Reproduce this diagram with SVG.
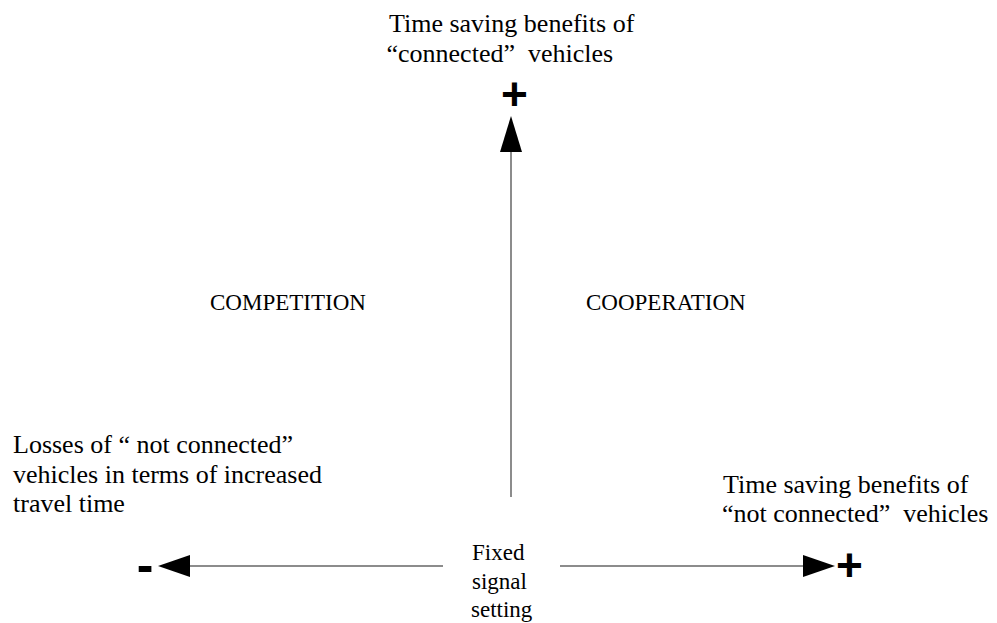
<svg xmlns="http://www.w3.org/2000/svg" width="997" height="623" viewBox="0 0 997 623">
<style>
.t{font-family:"Liberation Serif","Times New Roman",serif;font-size:26px;fill:#000;white-space:pre}
.q{font-size:23px}
.s{font-family:"Liberation Sans",Arial,sans-serif;font-weight:bold;fill:#000;text-anchor:middle}
.ln{stroke:#666;stroke-width:1.5;fill:none}
</style>
<rect width="997" height="623" fill="#fff"/>
<g id="connectors">
<line class="ln" x1="511" y1="497" x2="511" y2="150"/>
<polygon points="511,116 500,152 522,152" fill="#000"/>
<line class="ln" x1="443" y1="566" x2="188" y2="566"/>
<polygon points="158,566 190,555 190,577" fill="#000"/>
<line class="ln" x1="560" y1="566" x2="805" y2="566"/>
<polygon points="835,566 803,555 803,577" fill="#000"/>
</g>
<g id="top-label">
<text class="t" x="389" y="32">Time saving benefits of</text>
<text class="t" x="386.5" y="62" xml:space="preserve">“connected”  vehicles</text>
<text class="s" x="514.5" y="110" font-size="46">+</text>
</g>
<g id="competition"><text class="t q" x="210" y="310">COMPETITION</text></g>
<g id="cooperation"><text class="t q" x="586" y="310">COOPERATION</text></g>
<g id="left-label">
<text class="t" x="13" y="453">Losses of “ not connected”</text>
<text class="t" x="13" y="483">vehicles in terms of increased</text>
<text class="t" x="13" y="512">travel time</text>
<text class="s" x="145" y="582" font-size="50">-</text>
</g>
<g id="right-label">
<text class="t" x="723" y="493">Time saving benefits of</text>
<text class="t" x="722" y="522" xml:space="preserve">“not connected”  vehicles</text>
<text class="s" x="849.5" y="580.5" font-size="46">+</text>
</g>
<g id="center-label">
<text class="t q" x="472" y="560">Fixed</text>
<text class="t q" x="472" y="589">signal</text>
<text class="t q" x="471" y="617">setting</text>
</g>
</svg>
